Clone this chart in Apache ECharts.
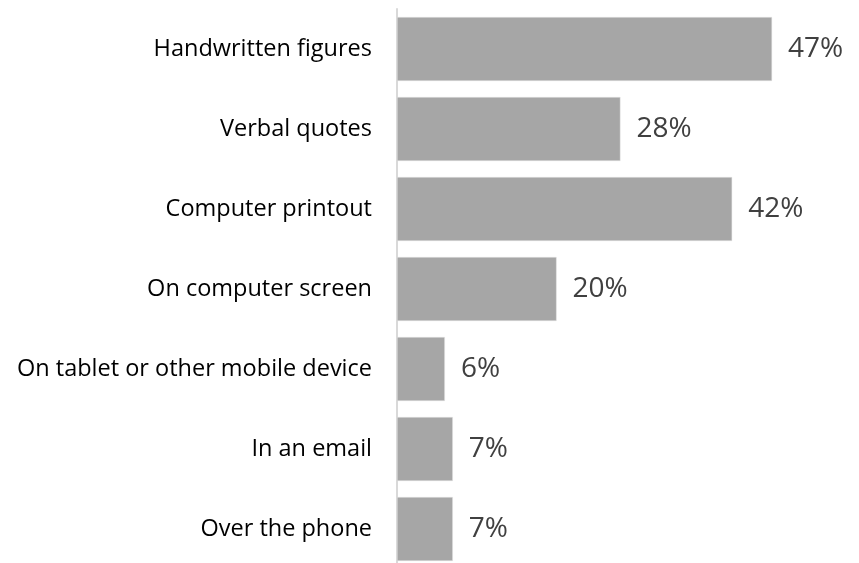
<!DOCTYPE html>
<html>
<head>
<meta charset="utf-8">
<script src="https://cdn.jsdelivr.net/npm/echarts@6/dist/echarts.min.js"></script>
<style>
  html, body { margin: 0; padding: 0; background: #fff; }
  #chart { width: 859px; height: 563px; }
</style>
</head>
<body>
<div id="chart"></div>
<script>
// Where respondents see price quotes (share of respondents, %)
const categories = [
  'Handwritten figures',
  'Verbal quotes',
  'Computer printout',
  'On computer screen',
  'On tablet or other mobile device',
  'In an email',
  'Over the phone'
];
const shares = [47, 28, 42, 20, 6, 7, 7];

const chart = echarts.init(document.getElementById('chart'), null, { renderer: 'canvas' });

chart.setOption({
  animation: false,
  backgroundColor: '#ffffff',
  // plot area runs a few pixels past the bottom edge of the canvas
  grid: { left: 397, top: 9, width: 399, height: 560, outerBoundsMode: 'none', containLabel: false },
  xAxis: {
    type: 'value',
    min: 0,
    max: 50,
    show: false
  },
  yAxis: {
    type: 'category',
    inverse: true,
    data: categories,
    axisLine: { show: true, lineStyle: { color: '#d9d9d9', width: 2 } },
    axisTick: { show: false },
    axisLabel: {
      margin: 25,
      color: '#000000',
      fontFamily: 'Open Sans',
      fontSize: 23.5
    },
    splitLine: { show: false }
  },
  series: [{
    type: 'bar',
    data: shares,
    barCategoryGap: '20%',
    itemStyle: { color: '#a6a6a6', borderColor: '#e6e6e6', borderWidth: 0.5 },
    label: {
      show: true,
      position: 'right',
      distance: 16,
      formatter: p => p.value + '%',
      color: '#404040',
      fontFamily: 'Open Sans',
      fontSize: 28
    }
  }]
});
</script>
</body>
</html>
